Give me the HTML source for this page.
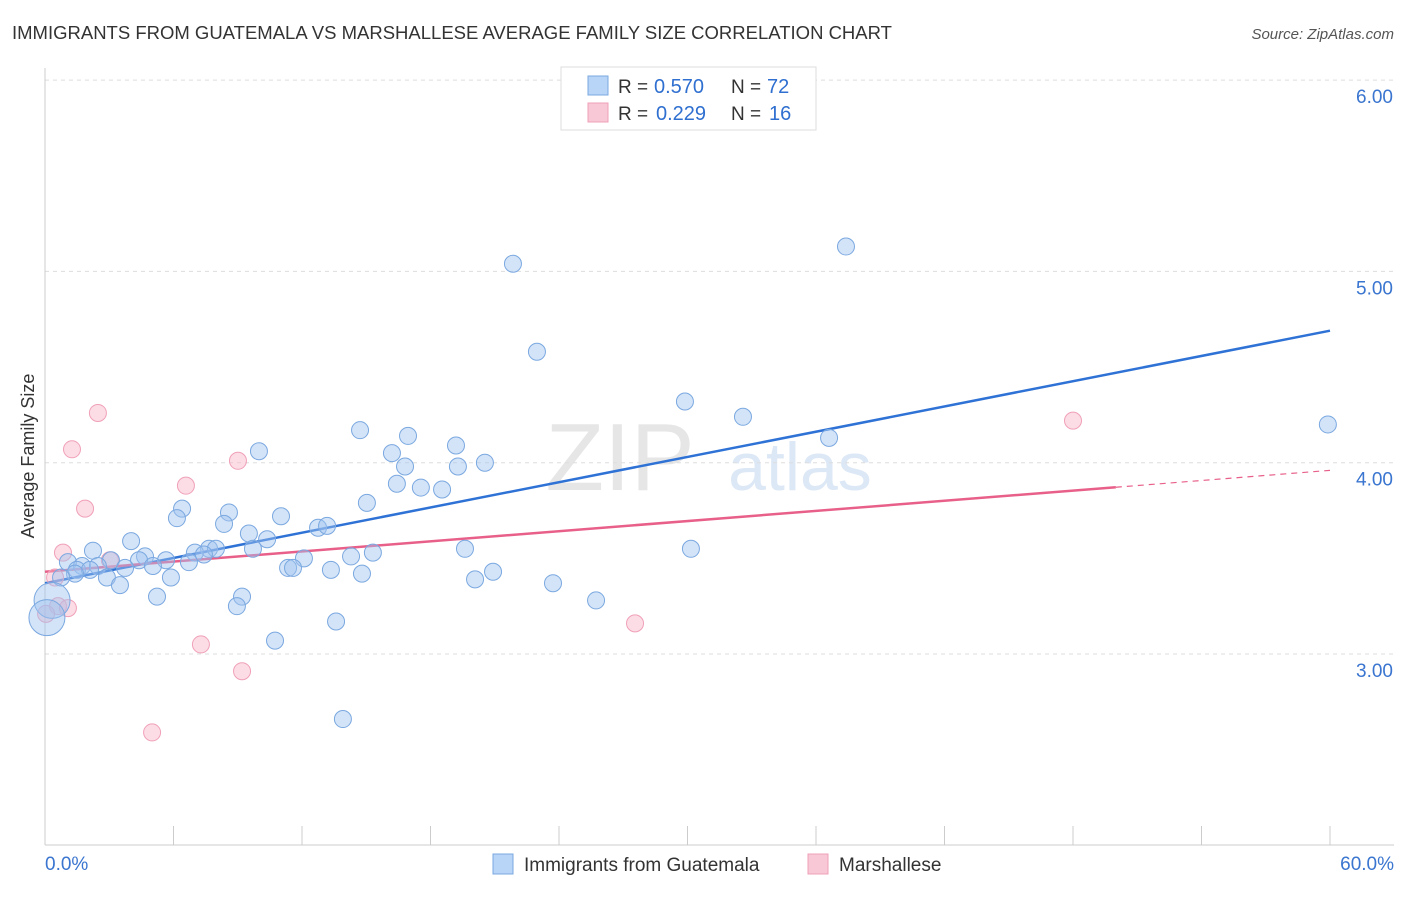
<!DOCTYPE html>
<html><head><meta charset="utf-8"><style>
body{margin:0;background:#fff;font-family:"Liberation Sans",sans-serif;}
svg text{font-family:"Liberation Sans",sans-serif;}
</style></head><body>
<svg id="chart" width="1406" height="892">
<text x="12" y="39" font-size="18.5" fill="#333">IMMIGRANTS FROM GUATEMALA VS MARSHALLESE AVERAGE FAMILY SIZE CORRELATION CHART</text>
<text x="1394" y="39" font-size="15" fill="#555" font-style="italic" text-anchor="end">Source: ZipAtlas.com</text>
<text x="0" y="0" transform="translate(34,456) rotate(-90)" font-size="18" fill="#333" text-anchor="middle">Average Family Size</text>
<text x="620" y="490" font-size="96" fill="#e6e6e6" font-family="Liberation Serif" text-anchor="middle">ZIP</text>
<text x="800" y="490" font-size="68" fill="#dde8f6" text-anchor="middle">atlas</text>
<g id="grid"></g><g id="axes"></g><g id="trends"></g><g id="pts"></g>
<g>
<rect x="561" y="67" width="255" height="63" fill="#fff" stroke="#ddd"/>
<rect x="588" y="76" width="20" height="19" fill="#b8d4f6" stroke="#7aa8e0"/>
<rect x="588" y="103" width="20" height="19" fill="#f9c8d6" stroke="#f0a0b8"/>
<text x="618" y="93" font-size="19" fill="#333">R =</text>
<text x="654" y="93" font-size="20" fill="#2f6fd0">0.570</text>
<text x="731" y="93" font-size="19" fill="#333">N =</text>
<text x="767" y="93" font-size="20" fill="#2f6fd0">72</text>
<text x="618" y="120" font-size="19" fill="#333">R =</text>
<text x="656" y="120" font-size="20" fill="#2f6fd0">0.229</text>
<text x="731" y="120" font-size="19" fill="#333">N =</text>
<text x="769" y="120" font-size="20" fill="#2f6fd0">16</text>
</g>
<g>
<rect x="493" y="854" width="20" height="20" fill="#b8d4f6" stroke="#7aa8e0"/>
<text x="524" y="871" font-size="19" fill="#333">Immigrants from Guatemala</text>
<rect x="808" y="854" width="20" height="20" fill="#f9c8d6" stroke="#f0a0b8"/>
<text x="839" y="871" font-size="19" fill="#333">Marshallese</text>
</g>
</svg>
<script>
const blueX=[21.85,37.40,22.97,29.88,32.59,59.90,36.61,14.71,16.95,9.99,19.19,16.20,20.54,19.28,16.81,16.43,17.55,18.54,15.03,6.40,8.59,6.16,8.36,11.02,9.52,10.37,12.75,13.17,4.02,2.24,7.66,7.98,7.00,7.42,9.71,4.67,3.08,5.65,4.39,5.04,6.72,12.09,14.29,15.31,19.61,30.16,1.07,1.73,2.47,1.49,2.10,3.74,11.35,11.58,13.35,14.80,1.40,2.89,5.88,3.50,20.92,20.08,23.72,0.75,5.23,9.20,8.96,25.73,13.59,10.74,13.91,0.33,0.09];
const blueY=[5.04,5.13,4.58,4.32,4.24,4.20,4.13,4.17,4.14,4.06,4.09,4.05,4.00,3.98,3.98,3.89,3.87,3.86,3.79,3.76,3.74,3.71,3.68,3.72,3.63,3.60,3.66,3.67,3.59,3.54,3.55,3.55,3.53,3.52,3.55,3.51,3.49,3.49,3.49,3.46,3.48,3.50,3.51,3.53,3.55,3.55,3.48,3.46,3.46,3.44,3.44,3.45,3.45,3.45,3.44,3.42,3.42,3.40,3.40,3.36,3.43,3.39,3.37,3.40,3.30,3.30,3.25,3.28,3.17,3.07,2.66,3.28,3.19];
const blueR=blueX.map((v,i)=>i>=71?18:8.5);
const pinkX=[2.47,1.26,9.01,48.00,6.58,1.87,0.84,3.03,0.47,0.61,1.07,0.05,27.55,7.28,9.20,5.00];
const pinkY=[4.26,4.07,4.01,4.22,3.88,3.76,3.53,3.49,3.40,3.25,3.24,3.21,3.16,3.05,2.91,2.59];
const blueTrend=[3.37,4.69];
const pinkTrend=[3.43,3.96];
const yTicks=[3,4,5,6];
const yLabels=["3.00","4.00","5.00","6.00"];
const xTicks=[0,6,12,18,24,30,36,42,48,54,60];
const NS="http://www.w3.org/2000/svg";
const sx=v=>45+v/60*1285;
const sy=v=>654-(v-3)*191.3;
function mk(tag,attrs,parent){const e=document.createElementNS(NS,tag);for(const k in attrs)e.setAttribute(k,attrs[k]);document.getElementById(parent).appendChild(e);return e;}
yTicks.forEach((t,i)=>{
 const l=mk('line',{x1:45,x2:1394,y1:sy(t),y2:sy(t),stroke:'#ddd','stroke-dasharray':'4,4'},'grid');
 
 
 const tx=mk('text',{x:1393,y:sy(t)+23,'font-size':19,fill:'#3a75d0','text-anchor':'end'},'grid');
 tx.textContent=yLabels[i];
 
 
});
const ax=mk('line',{x1:45,x2:45,y1:68,y2:845,stroke:'#ccc'},'axes');


const bx=mk('line',{x1:45,x2:1394,y1:845,y2:845,stroke:'#ccc'},'axes');


xTicks.forEach(t=>{
 const l=mk('line',{x1:sx(t),x2:sx(t),y1:826,y2:845,stroke:'#ccc'},'axes');
 
 
});
const xl0=mk('text',{x:45,y:870,'font-size':19,fill:'#3a75d0'},'axes');xl0.textContent='0.0%';


const xl1=mk('text',{x:1394,y:870,'font-size':19,fill:'#3a75d0','text-anchor':'end'},'axes');xl1.textContent='60.0%';


pinkX.forEach((x,i)=>{
 const c=mk('circle',{cx:sx(x),cy:sy(pinkY[i]),r:8.5,fill:'rgba(248,180,200,0.45)',stroke:'#f0a0b8','stroke-width':1},'pts');
 
 
});
blueX.forEach((x,i)=>{
 const c=mk('circle',{cx:sx(x),cy:sy(blueY[i]),r:blueR[i],fill:'rgba(160,196,240,0.45)',stroke:'#7aa8e0','stroke-width':1},'pts');
 
 
});
const bt=mk('line',{x1:sx(0),y1:sy(blueTrend[0]),x2:sx(60),y2:sy(blueTrend[1]),stroke:'#2f72d6','stroke-width':2.5},'trends');


const pAt=x=>pinkTrend[0]+(pinkTrend[1]-pinkTrend[0])*x/60;
const pt=mk('line',{x1:sx(0),y1:sy(pAt(0)),x2:sx(50),y2:sy(pAt(50)),stroke:'#e8608a','stroke-width':2.5},'trends');


const pd=mk('line',{x1:sx(50),y1:sy(pAt(50)),x2:sx(60),y2:sy(pAt(60)),stroke:'#e8608a','stroke-width':1.2,'stroke-dasharray':'6,5'},'trends');


</script>
</body></html>
